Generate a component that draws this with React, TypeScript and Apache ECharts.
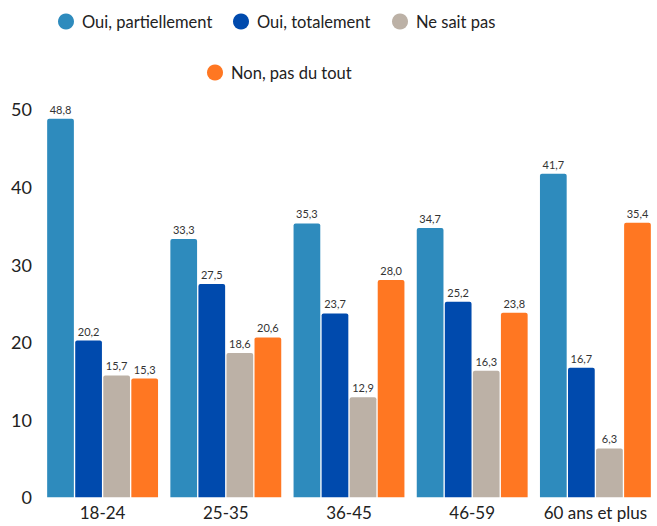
import React, { useEffect, useRef } from "react";
import * as echarts from "echarts";

const categories = ["18-24", "25-35", "36-45", "46-59", "60 ans et plus"];
const seriesNames = ["Oui, partiellement", "Oui, totalement", "Ne sait pas", "Non, pas du tout"];
const ouiPartiellement = [48.8, 33.3, 35.3, 34.7, 41.7];
const ouiTotalement = [20.2, 27.5, 23.7, 25.2, 16.7];
const neSaitPas = [15.7, 18.6, 12.9, 16.3, 6.3];
const nonPasDuTout = [15.3, 20.6, 28.0, 23.8, 35.4];
const colors = ["#2E8BBD", "#004AAD", "#BCB1A6", "#FF7722"];

const FONT = "Lato";
const legendPos = [
  { left: 58, top: 13 },
  { left: 233, top: 13 },
  { left: 392, top: 13 },
  { left: 207, top: 64 },
];

export default function App() {
  const ref = useRef<HTMLDivElement>(null);
  useEffect(() => {
    if (!ref.current) return;
    const chart = echarts.init(ref.current, undefined, { renderer: "svg" });
    const values = [ouiPartiellement, ouiTotalement, neSaitPas, nonPasDuTout];
    chart.setOption({
      animation: false,
      textStyle: { fontFamily: FONT },
      legend: seriesNames.map((name, i) => ({
        data: [name],
        left: legendPos[i].left,
        top: legendPos[i].top,
        icon: "circle",
        itemWidth: 16,
        itemHeight: 16,
        padding: 0,
        textStyle: { fontSize: 16.5, color: "#222", fontFamily: FONT, padding: [0, 0, 0, 3] },
      })),
      grid: { left: 41, right: -3, top: 109.4, bottom: 28.7, containLabel: false },
      xAxis: {
        type: "category",
        data: categories,
        axisLine: { show: false },
        axisTick: { show: false },
        axisLabel: { interval: 0, fontSize: 17, color: "#222", margin: 7, fontFamily: FONT },
      },
      yAxis: {
        type: "value",
        min: 0,
        max: 50,
        interval: 10,
        splitLine: { show: false },
        axisLine: { show: false },
        axisTick: { show: false },
        axisLabel: { fontSize: 18, color: "#222", margin: 9, fontFamily: FONT },
      },
      series: seriesNames.map((name, i) => ({
        name,
        type: "bar",
        data: values[i],
        barCategoryGap: "10%",
        barGap: "5%",
        itemStyle: { color: colors[i], borderRadius: [2, 2, 0, 0] },
        label: {
          show: true,
          position: "top",
          distance: 4,
          fontSize: 11,
          color: "#333",
          fontFamily: FONT,
          formatter: (p: any) => Number(p.value).toFixed(1).replace(".", ","),
        },
      })),
    });
    return () => chart.dispose();
  }, []);
  return (
    <div
      ref={ref}
      style={{ position: "fixed", left: 0, top: 0, width: 657, height: 526, background: "#fff" }}
    />
  );
}
